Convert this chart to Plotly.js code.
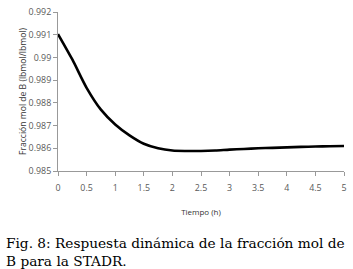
<!DOCTYPE html>
<html><head><meta charset="utf-8">
<script src="https://cdn.plot.ly/plotly-3.0.1.min.js"></script>
<style>html,body{margin:0;padding:0;background:#fff;}#chart{width:353px;height:269px;}</style>
</head><body><div id="chart"></div>
<script>
const tiempo = [0, 0.25, 0.5, 0.75, 1, 1.25, 1.5, 1.75, 2, 2.25, 2.5, 2.75, 3, 3.25, 3.5, 3.75, 4, 4.25, 4.5, 4.75, 5];
const fraccionB = [0.99103, 0.98991, 0.98866, 0.98770, 0.98705, 0.98657, 0.98620, 0.98600, 0.98590, 0.98588, 0.98588, 0.98590, 0.98594, 0.98597, 0.98600, 0.98602, 0.98604, 0.98606, 0.98608, 0.98609, 0.98610];
const xTicks = [0, 0.5, 1, 1.5, 2, 2.5, 3, 3.5, 4, 4.5, 5];
const xTickLabels = ['0', '0.5', '1', '1.5', '2', '2.5', '3', '3.5', '4', '4.5', '5'];
const yTicks = [0.985, 0.986, 0.987, 0.988, 0.989, 0.99, 0.991, 0.992];
const yTickLabels = ['0.985', '0.986', '0.987', '0.988', '0.989', '0.99', '0.991', '0.992'];
const caption1 = 'Fig. 8: Respuesta dinámica de la fracción mol de';
const caption2 = 'B para la STADR.';

const tickFont = {family: 'Open Sans, sans-serif', size: 8.9, color: '#595959'};
const data = [{
  x: tiempo, y: fraccionB, type: 'scatter', mode: 'lines',
  line: {color: '#000', width: 2.6, shape: 'spline', smoothing: 0.8}
}];
const layout = {
  width: 353, height: 269,
  margin: {l: 57.5, r: 9, t: 11.7, b: 98.3},
  paper_bgcolor: '#fff', plot_bgcolor: '#fff',
  showlegend: false,
  xaxis: {
    range: [0, 5], tickvals: xTicks, ticktext: xTickLabels,
    showgrid: false, zeroline: false, showline: true, linecolor: '#999', linewidth: 1,
    ticks: 'outside', ticklen: 4, tickcolor: '#999', ticklabelstandoff: 4,
    tickfont: tickFont,
    title: {text: 'Tiempo (h)', font: {family: 'Open Sans, sans-serif', size: 8, color: '#333'}, standoff: 16}
  },
  yaxis: {
    range: [0.985, 0.992], tickvals: yTicks, ticktext: yTickLabels,
    showgrid: false, zeroline: false, showline: true, linecolor: '#999', linewidth: 1,
    ticks: 'outside', ticklen: 4, tickcolor: '#999',
    tickfont: tickFont,
    title: {text: 'Fracción mol de B (lbmol/lbmol)', font: {family: 'Open Sans, sans-serif', size: 8.6, color: '#333'}, standoff: 0}
  },
  annotations: [
    {text: caption1 + '<br>' + caption2, xref: 'paper', yref: 'paper', x: -54/286.5, y: -0.508, xanchor: 'left', yanchor: 'middle', align: 'left', showarrow: false,
     font: {family: 'DejaVu Serif, serif', size: 13.7, color: '#000'}}
  ]
};
Plotly.newPlot('chart', data, layout, {displayModeBar: false, staticPlot: true});
</script>
</body></html>
